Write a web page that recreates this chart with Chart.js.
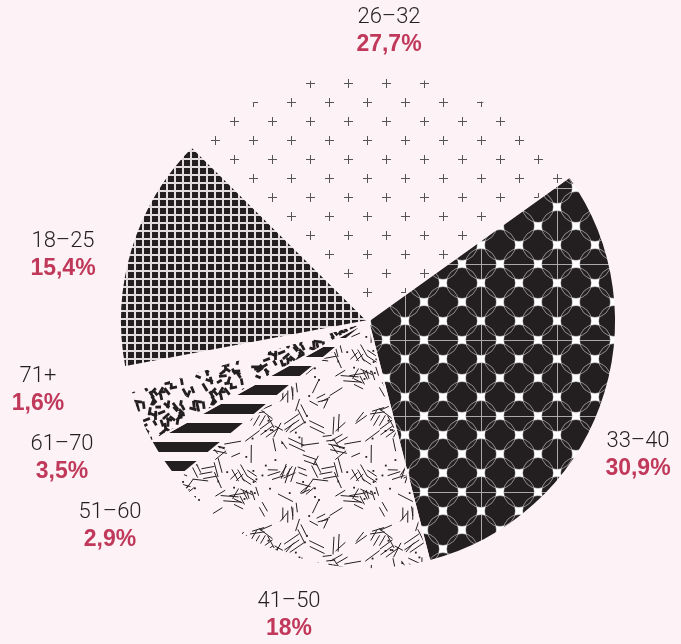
<!DOCTYPE html>
<html>
<head>
<meta charset="utf-8">
<script src="https://cdn.jsdelivr.net/npm/chart.js@4.4.1/dist/chart.umd.min.js"></script>
<style>
  html,body{margin:0;padding:0;background:#fdf2f5;}
  #wrap{width:681px;height:644px;}
</style>
</head>
<body>
<div id="wrap"><canvas id="ageChart" width="681" height="644"></canvas></div>
<script>
// Data: age groups and their share (%)
const ageGroups = ['26–32','33–40','41–50','51–60','61–70','71+','18–25'];
const shares = [27.7, 30.9, 18, 2.9, 3.5, 1.6, 15.4];

const BG = '#fdf2f5', INK = '#231f20', ROSE = '#c0395b';

// seeded generator, only used for texture scatter (not data)
let seed = 20240611;
const rnd = ()=> (seed = seed*16807 % 2147483647) / 2147483647;

function makeTile(w,h,draw){
  const c = document.createElement('canvas'); c.width=w; c.height=h;
  draw(c.getContext('2d'),w,h);
  return c;
}
function wrapDraw(g,w,h,fn){
  for(const dx of [-w,0,w]) for(const dy of [-h,0,h]){ g.save(); g.translate(dx,dy); fn(g); g.restore(); }
}

const ctx = document.getElementById('ageChart').getContext('2d');
const pat = (tile)=> ctx.createPattern(tile,'repeat');

// + marks on blank
const plusTile = makeTile(38,38,(g)=>{
  g.strokeStyle='#555'; g.lineWidth=1;
  [[6,7],[25,26]].forEach(([x,y])=>{
    g.beginPath();
    g.moveTo(x-4,y+0.5); g.lineTo(x+5,y+0.5);
    g.moveTo(x+0.5,y-4); g.lineTo(x+0.5,y+5);
    g.stroke();
  });
});

// black with circles, grey grid and white squares
const circleTile = makeTile(76,76,(g,w,h)=>{
  g.fillStyle=INK; g.fillRect(0,0,w,h);
  g.strokeStyle='rgba(165,160,162,0.85)'; g.lineWidth=1;
  for(let i=-2;i<6;i++) for(let j=-2;j<6;j++){
    if(((i+j)%2+2)%2===1){ g.beginPath(); g.arc(25+19*i,17+19*j,15.5,0,Math.PI*2); g.stroke(); }
  }
  g.strokeStyle='rgba(180,176,178,0.95)'; g.lineWidth=1;
  g.beginPath(); g.moveTo(25.5,0); g.lineTo(25.5,h); g.moveTo(0,36.5); g.lineTo(w,36.5); g.stroke();
  g.fillStyle='#fff';
  for(let i=-2;i<6;i++) for(let j=-2;j<6;j++){
    if(((i+j)%2+2)%2===0){
      const x=25+19*i, y=17+19*j, s=4.2, k=1.2;
      // slightly pinched square
      g.beginPath();
      g.moveTo(x-s,y-s); g.quadraticCurveTo(x,y-s+k,x+s,y-s);
      g.quadraticCurveTo(x+s-k,y,x+s,y+s);
      g.quadraticCurveTo(x,y+s-k,x-s,y+s);
      g.quadraticCurveTo(x-s+k,y,x-s,y-s);
      g.fill();
    }
  }
});

// thin dashes (some in small parallel pairs) + dots
const dashTile = makeTile(120,120,(g,w,h)=>{
  g.strokeStyle=INK; g.fillStyle=INK; g.lineWidth=1;
  const groups=[];
  for(let k=0;k<72;k++){
    const r=rnd();
    groups.push([rnd()*w,rnd()*h,rnd()*Math.PI,9+rnd()*9,r<0.6?1:(r<0.9?2:3)]);
  }
  const dots=[];
  for(let k=0;k<30;k++) dots.push([rnd()*w,rnd()*h]);
  wrapDraw(g,w,h,(q)=>{
    groups.forEach(([x,y,a,l,n])=>{
      const ca=Math.cos(a), sa=Math.sin(a);
      for(let m=0;m<n;m++){
        const ox=-sa*m*5, oy=ca*m*5, sh=(m%2)*3;
        q.beginPath();
        q.moveTo(x+ox+ca*sh,y+oy+sa*sh);
        q.lineTo(x+ox+ca*(l+sh),y+oy+sa*(l+sh));
        q.stroke();
      }
    });
    dots.forEach(([x,y])=> q.fillRect(x,y,1.8,1.8));
  });
});

// horizontal bands
const stripeTile = makeTile(19,19,(g,w)=>{
  g.fillStyle=INK; g.fillRect(0,5,w,10);
});

// thick sprinkles
const sprinkleTile = makeTile(60,60,(g,w,h)=>{
  g.strokeStyle=INK; g.lineWidth=2.8;
  const items=[];
  for(let k=0;k<68;k++) items.push([rnd()*w,rnd()*h,rnd()*Math.PI,5+rnd()*4]);
  wrapDraw(g,w,h,(q)=>{
    items.forEach(([x,y,a,l])=>{
      q.beginPath(); q.moveTo(x,y); q.lineTo(x+Math.cos(a)*l,y+Math.sin(a)*l); q.stroke();
    });
  });
});

// dense square grid
const gridTile = makeTile(8,8,(g)=>{
  g.fillStyle='#e3dcde'; g.fillRect(0,0,8,8);
  g.fillStyle=INK; g.fillRect(0,0,6,6);
});

const fills = [pat(plusTile), pat(circleTile), pat(dashTile), pat(stripeTile), pat(sprinkleTile), BG, pat(gridTile)];

const fmtPct = v => String(v).replace('.',',') + '%';

// labels outside the pie
const sliceLabels = {
  id:'sliceLabels',
  afterDatasetsDraw(chart, args, opts){
    const c = chart.ctx;
    c.save();
    c.textAlign='center'; c.textBaseline='alphabetic';
    chart.data.labels.forEach((lbl,i)=>{
      const [x,y] = opts.anchors[i];
      c.font = '300 22px Roboto, "Liberation Sans", sans-serif';
      c.fillStyle = INK;
      c.fillText(lbl,x,y);
      c.font = 'bold 23px "Liberation Sans", Arial, sans-serif';
      c.fillStyle = ROSE;
      c.fillText(fmtPct(chart.data.datasets[0].data[i]),x,y+28);
    });
    c.restore();
  }
};

new Chart(ctx,{
  type:'pie',
  data:{
    labels: ageGroups,
    datasets:[{
      data: shares,
      backgroundColor: fills,
      borderColor: BG,
      borderWidth: 2,
      radius: 248
    }]
  },
  options:{
    responsive:false,
    animation:false,
    rotation:-45.3,
    layout:{padding:{left:121,right:66,top:74,bottom:76}},
    plugins:{
      legend:{display:false},
      tooltip:{enabled:false},
      sliceLabels:{
        anchors:[[389,23],[638,447],[289,607],[110,518],[62,450],[38,382],[63,247]]
      }
    }
  },
  plugins:[sliceLabels]
});
</script>
</body>
</html>
